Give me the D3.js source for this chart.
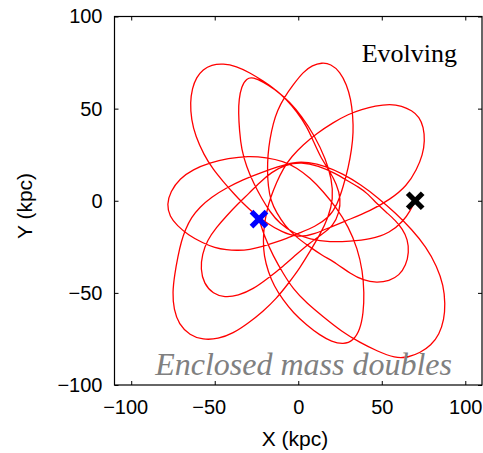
<!DOCTYPE html>
<html>
<head>
<meta charset="utf-8">
<script src="https://cdn.jsdelivr.net/npm/d3@7/dist/d3.min.js"></script>
<style>
  html, body { margin: 0; padding: 0; background: #fff; }
  svg { display: block; }
</style>
</head>
<body>
<svg id="chart" width="483" height="453"></svg>
<script>
// Axis ticks
const xTicks = [-100, -50, 0, 50, 100];
const yTicks = [-100, -50, 0, 50, 100];

// Start (blue) and end (black) positions, kpc
const startPos = [-23.5, -10];
const endPos = [70, 0];

// Orbit track in the X-Y plane (kpc), in time order, one line per petal
const orbitX = [
  -23.5, -20, -15, -9, -3, 5, 15, 26, 37, 47, 58, 66, 73, 79.5, 84.5, 87.3, 88, 87, 83, 76.5, 68, 58, 48, 37, 27, 16, 6,
  -3, -12, -23, -33, -43, -52, -59, -64, -67.5, -70, -72, -74, -75.3, -74.5, -71.5, -65, -57, -48, -39, -30, -21, -13, -6, 1, 7, 13, 18, 21, 20,
  16.5, 10, 2, -5, -13, -21, -29, -37, -45, -52, -57, -61, -63.5, -64.7, -64, -61.5, -56.5, -51, -45, -39, -33, -27, -19, -10, 0,
  10, 20, 31, 43, 55, 65, 71, 74.5, 75.8, 75, 72.5, 68, 62, 55, 46, 38, 30, 21, 11, 3, -4, -9, -13, -16.5, -19, -20.5, -21,
  -20.5, -18, -14.5, -9, -3, 5, 13, 20, 27, 33, 37, 39, 39.5, 38.5, 35.5, 30, 23, 15, 7,
  -1, -9, -19, -30, -42, -53, -63, -71, -76.5, -78.7, -77, -72.5, -66, -57, -50, -43, -36, -29, -22, -15, -7, 1, 10, 18,
  23.5, 27, 30, 32, 33, 32.7, 31.5, 29, 25, 19.5, 14, 8.5, 3, -3, -8.5, -12.5, -15, -17, -18.2, -18.5, -18, -16.5, -13, -8, -1.5, 6, 14,
  23, 31, 39, 47, 54.5, 60.5, 64.5, 66.3, 65.5, 62.5, 58, 53, 47, 41, 36, 31, 22, 12, 2,
  -8, -16, -23, -29.5, -36.5, -43, -49, -54.5, -57.5, -58.5, -56.5, -51, -44, -36, -27, -18, -9, -1, 7, 14.5, 21, 24.5, 25.5, 23, 18.5,
  13, 9, 5, -1, -7, -14, -21, -27, -31, -34, -35.5, -35.8, -35.2, -34, -31, -26.5, -22, -17, -11, -3, 7, 19, 31, 43, 55, 63, 67, 70
];
const orbitY = [
  -10, -20, -30, -39.5, -48, -55.5, -63, -71, -77, -81.5, -85.5, -85, -82.5, -78.5, -72.5, -64.5, -56, -46, -35.5, -25, -15.5, -6.5, 1.5, 9, 14.5, 19, 21,
  21, 18.5, 15, 11.5, 7, 2, -3.5, -9, -15.5, -22, -30, -40, -50, -59, -67, -73, -75.5, -75, -72, -66.5, -60, -53, -45, -36.5, -27.5, -18.5, -9, 1, 12,
  22.5, 35, 46, 53.5, 60, 65, 69.5, 73, 74.5, 73.8, 71.3, 67, 61, 53.3, 44, 35, 25, 17, 10.5, 4.3, -1.5, -6.5, -12, -17, -20,
  -18, -14, -10, -5.5, 0.7, 8, 17, 25, 32.5, 40, 45.5, 49, 51.5, 52.5, 51.5, 49.5, 47, 42.5, 36.5, 30.5, 24, 17.5, 10, 2, -6, -14, -22,
  -30, -38.5, -46.3, -54, -60.8, -67.5, -73, -76.5, -78, -76, -70, -61, -50, -38, -26, -14, -4, 5, 12.5,
  18, 21.5, 23.5, 24.3, 23, 20.6, 17, 12, 5, -2, -8.5, -13.5, -18.5, -23, -25.5, -26.7, -27, -26.5, -25, -23, -20.5, -17.4, -14, -9.5,
  -2, 8, 18, 28, 37, 46, 55, 63, 70, 74.3, 75, 73.5, 70, 63, 56, 49, 42, 33.5, 25, 16, 8, 0, -6.5, -13.5, -19.5, -24.5, -29.5,
  -34, -39.5, -43.3, -44.5, -43.5, -40.5, -35, -28, -21, -15.5, -10.5, -6.5, -1.5, 4.3, 7.5, 10, 15, 19, 21,
  19.5, 15.5, 10, 4, -2, -8.3, -14.5, -21.5, -29, -37, -45, -50.5, -52.5, -51.5, -48, -42, -35.5, -29, -22.8, -18, -13.5, -6.5, 1, 9, 16.5,
  24.2, 32.5, 40.5, 48.5, 55, 60.5, 64.5, 67, 66.5, 62, 55, 48, 38, 28, 18.5, 9, 1.5, -6, -12.5, -17.5, -21, -22.5, -22, -21, -17.4, -11, -5.5, 0
];

const plot = { left: 114.5, right: 482, top: 16.5, bottom: 385 };

const svg = d3.select("#chart");

const x = d3.scaleLinear().domain([-110, 110]).range([plot.left, plot.right]);
const y = d3.scaleLinear().domain([-100, 100]).range([plot.bottom, plot.top]);

const tickFont = "'Liberation Sans', Arial, sans-serif";

// Orbit path (B-spline through the sampled track for a smooth curve)
const pts = orbitX.map((v, i) => [v, orbitY[i]]);
const line = d3.line()
  .x(d => x(d[0]))
  .y(d => y(d[1]))
  .curve(d3.curveBasis);

svg.append("defs").append("clipPath").attr("id", "plotClip")
  .append("rect")
  .attr("x", plot.left).attr("y", plot.top)
  .attr("width", plot.right - plot.left).attr("height", plot.bottom - plot.top);

svg.append("path")
  .datum(pts)
  .attr("clip-path", "url(#plotClip)")
  .attr("fill", "none")
  .attr("stroke", "#ff0000")
  .attr("stroke-width", 1.3)
  .attr("stroke-linejoin", "round")
  .attr("d", line);

// Start / end markers drawn as bold crosses
function cross(pos, color) {
  const cx = x(pos[0]), cy = y(pos[1]), h = 7.5;
  const g = svg.append("g").attr("stroke", color).attr("stroke-width", 5.2);
  g.append("line").attr("x1", cx - h).attr("y1", cy - h).attr("x2", cx + h).attr("y2", cy + h);
  g.append("line").attr("x1", cx - h).attr("y1", cy + h).attr("x2", cx + h).attr("y2", cy - h);
}
cross(startPos, "#0000ff");
cross(endPos, "#000000");

// Axes with inward ticks on all four sides
function styleAxis(g) {
  g.select(".domain").remove();
  g.selectAll(".tick line").attr("stroke", "#000").attr("stroke-width", 1);
  g.selectAll(".tick text")
    .attr("fill", "#000")
    .style("font-family", tickFont)
    .style("font-size", "20px");
}

// Bottom labels: digits centred on the tick, minus sign hanging to the left
svg.append("g")
  .attr("transform", `translate(0,${plot.bottom})`)
  .call(d3.axisBottom(x).tickValues(xTicks).tickSizeInner(-4).tickSizeOuter(0).tickPadding(15))
  .call(styleAxis)
  .call(g => g.selectAll(".tick text").attr("dx", d => d < 0 ? -6 : 0));

svg.append("g")
  .attr("transform", `translate(0,${plot.top})`)
  .call(d3.axisTop(x).tickValues(xTicks).tickSizeInner(-4).tickSizeOuter(0).tickFormat(""))
  .call(styleAxis);

svg.append("g")
  .attr("transform", `translate(${plot.left},0)`)
  .call(d3.axisLeft(y).tickValues(yTicks).tickSizeInner(-4).tickSizeOuter(0).tickPadding(12))
  .call(styleAxis);

svg.append("g")
  .attr("transform", `translate(${plot.right},0)`)
  .call(d3.axisRight(y).tickValues(yTicks).tickSizeInner(-4).tickSizeOuter(0).tickFormat(""))
  .call(styleAxis);

// Frame
svg.append("rect")
  .attr("x", plot.left).attr("y", plot.top)
  .attr("width", plot.right - plot.left).attr("height", plot.bottom - plot.top)
  .attr("fill", "none").attr("stroke", "#000").attr("stroke-width", 1.2);

// Axis titles
svg.append("text")
  .attr("x", 295).attr("y", 446)
  .attr("text-anchor", "middle")
  .style("font-family", tickFont).style("font-size", "21px")
  .text("X (kpc)");

svg.append("text")
  .attr("transform", `translate(32,206) rotate(-90)`)
  .attr("text-anchor", "middle")
  .style("font-family", tickFont).style("font-size", "21px")
  .text("Y (kpc)");

// Annotations
svg.append("text")
  .attr("x", 457).attr("y", 61.5)
  .attr("text-anchor", "end")
  .style("font-family", "'Liberation Serif', 'Times New Roman', serif")
  .style("font-size", "26px")
  .attr("fill", "#000")
  .text("Evolving");

svg.append("text")
  .attr("x", 452).attr("y", 375)
  .attr("text-anchor", "end")
  .style("font-family", "'Liberation Serif', 'Times New Roman', serif")
  .style("font-style", "italic")
  .style("font-size", "32px")
  .attr("fill", "#808080")
  .text("Enclosed mass doubles");
</script>
</body>
</html>
